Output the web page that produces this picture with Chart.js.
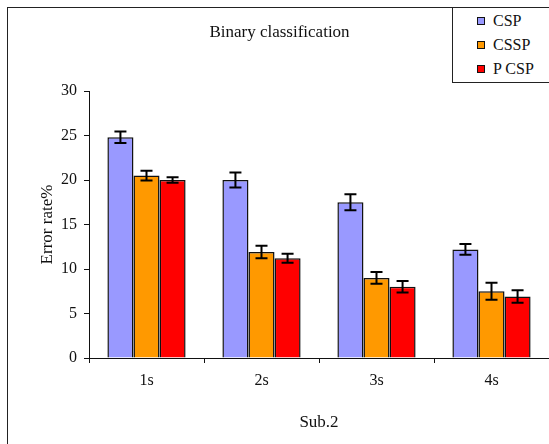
<!DOCTYPE html>
<html>
<head>
<meta charset="utf-8">
<script src="https://cdn.jsdelivr.net/npm/chart.js@4"></script>
<style>
  body { margin: 0; background: #fff; overflow: hidden; }
  #wrap { position: relative; width: 549px; height: 444px; overflow: hidden; }
  #frame { position: absolute; left: 7px; top: 7px; width: 700px; height: 700px; border: 1px solid #222; }
  #chart { position: absolute; left: 0; top: 0; }
  #legend {
    position: absolute; left: 452px; top: 7px; width: 120px; height: 74px;
    border: 1px solid #222; background: #fff;
    font-family: "Liberation Serif", serif; font-size: 16px; color: #111;
  }
  .item { position: absolute; left: 24px; height: 18px; line-height: 18px; }
  .item span.box { position: absolute; left: 0; top: 5px; width: 6px; height: 6px; border: 1px solid #111; }
  .item span.txt { position: absolute; left: 16px; top: 0; white-space: nowrap; }
</style>
</head>
<body>
<div id="wrap">
  <div id="frame"></div>
  <canvas id="chart" width="549" height="444"></canvas>
  <div id="legend"></div>
</div>
<script>
// data
const categories = ['1s', '2s', '3s', '4s'];
const seriesNames = ['CSP', 'CSSP', 'P CSP'];
const cspValues = [24.8, 20.0, 17.5, 12.2];
const csspValues = [20.5, 11.9, 9.0, 7.5];
const pcspValues = [20.0, 11.2, 8.0, 6.9];
const cspErrors = [0.65, 0.85, 0.9, 0.6];
const csspErrors = [0.55, 0.7, 0.65, 0.95];
const pcspErrors = [0.3, 0.5, 0.65, 0.7];
const yTicks = [0, 5, 10, 15, 20, 25, 30];

const colors = ['#9999ff', '#ff9900', '#ff0000'];
const FONT = '"Liberation Serif", "Times New Roman", serif';

const valueSets = [cspValues, csspValues, pcspValues];
const errorSets = [cspErrors, csspErrors, pcspErrors];

// error bars drawn on top of the bars
const errorBars = {
    id: 'errorBars',
    afterDatasetsDraw(chart) {
        const ctx = chart.ctx;
        const y = chart.scales.y;
        ctx.save();
        ctx.strokeStyle = '#000';
        ctx.lineWidth = 2;
        chart.data.datasets.forEach((ds, i) => {
            const meta = chart.getDatasetMeta(i);
            meta.data.forEach((bar, j) => {
                const v = ds.data[j];
                const e = ds.errors[j];
                const top = y.getPixelForValue(v + e);
                const bot = y.getPixelForValue(v - e);
                ctx.beginPath();
                ctx.moveTo(bar.x, top);
                ctx.lineTo(bar.x, bot);
                ctx.moveTo(bar.x - 6, top);
                ctx.lineTo(bar.x + 6, top);
                ctx.moveTo(bar.x - 6, bot);
                ctx.lineTo(bar.x + 6, bot);
                ctx.stroke();
            });
        });
        ctx.restore();
    }
};

const chart = new Chart(document.getElementById('chart'), {
    type: 'bar',
    data: {
        labels: categories,
        datasets: seriesNames.map((name, i) => ({
            label: name,
            data: valueSets[i],
            errors: errorSets[i],
            backgroundColor: colors[i],
            borderColor: '#111',
            borderWidth: 1.5,
            categoryPercentage: 0.68,
            barPercentage: 1
        }))
    },
    options: {
        responsive: false,
        animation: false,
        layout: { padding: { left: 10, right: 0, top: 0, bottom: 0 } },
        plugins: {
            legend: { display: false },
            tooltip: { enabled: false },
            title: {
                display: true,
                text: 'Binary classification',
                color: '#111',
                font: { family: FONT, size: 17, weight: 'normal', lineHeight: 1.2 },
                padding: { top: 22, bottom: 48.6 }
            }
        },
        scales: {
            x: {
                afterFit(scale) { scale.height = 86; },
                grid: { offset: true, drawOnChartArea: false, tickLength: 5, color: '#111' },
                border: { color: '#111', width: 1 },
                ticks: { color: '#111', padding: 8, font: { family: FONT, size: 16 } },
                title: {
                    display: true, text: 'Sub.2', color: '#111',
                    font: { family: FONT, size: 17, lineHeight: 1.2 },
                    padding: { top: 0, bottom: 11 }
                }
            },
            y: {
                min: 0, max: 30,
                afterFit(scale) { scale.width = 79; },
                afterBuildTicks(scale) { scale.ticks = yTicks.map(v => ({ value: v })); },
                grid: { drawOnChartArea: false, tickLength: 5, color: '#111' },
                border: { color: '#111', width: 1 },
                ticks: { color: '#111', padding: 7, font: { family: FONT, size: 16 } },
                title: {
                    display: true, text: 'Error rate%', color: '#111',
                    font: { family: FONT, size: 17, lineHeight: 1.2 },
                    padding: { top: 27, bottom: 0 }
                }
            }
        }
    },
    plugins: [errorBars]
});

// legend box in the top right corner
const legendEl = document.getElementById('legend');
chart.data.datasets.forEach((ds, i) => {
    const item = document.createElement('div');
    item.className = 'item';
    item.style.top = (4 + i * 24) + 'px';
    item.innerHTML = '<span class="box"></span><span class="txt"></span>';
    item.querySelector('.box').style.background = ds.backgroundColor;
    item.querySelector('.txt').textContent = ds.label;
    legendEl.appendChild(item);
});
</script>
</body>
</html>
